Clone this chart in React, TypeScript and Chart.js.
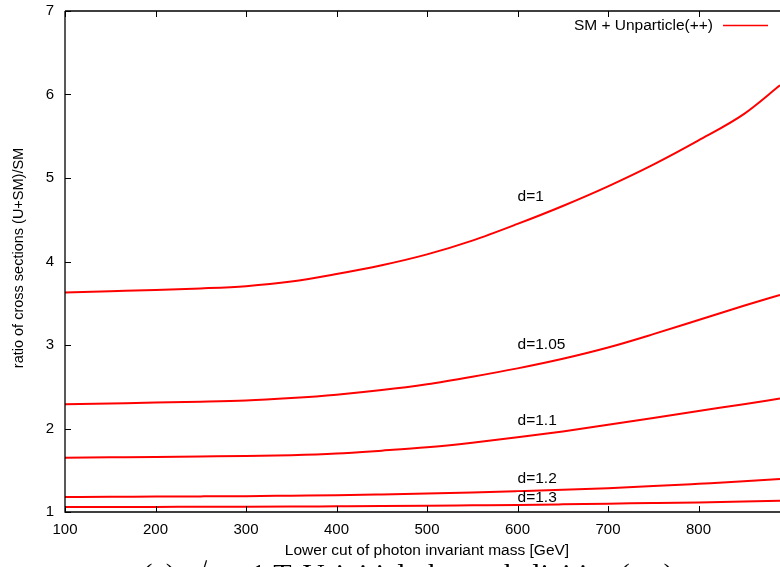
import React, { useEffect, useRef } from "react";
import { Chart, registerables } from "chart.js";

Chart.register(...registerables);

// Lower cut of photon invariant mass [GeV]
const massCut = [100, 150, 200, 250, 300, 350, 400, 450, 500, 550, 600, 650, 700, 750, 800, 850, 890];

// ratio of cross sections (U+SM)/SM for each scaling dimension d
const ratioD100 = [3.63, 3.645, 3.66, 3.678, 3.705, 3.76, 3.85, 3.955, 4.085, 4.25, 4.45, 4.665, 4.90, 5.16, 5.45, 5.765, 6.11];
const ratioD105 = [2.29, 2.30, 2.31, 2.32, 2.335, 2.365, 2.405, 2.46, 2.53, 2.62, 2.72, 2.835, 2.97, 3.13, 3.30, 3.47, 3.60];
const ratioD110 = [1.65, 1.655, 1.66, 1.665, 1.67, 1.68, 1.70, 1.735, 1.775, 1.83, 1.895, 1.965, 2.045, 2.125, 2.21, 2.29, 2.36];
const ratioD120 = [1.18, 1.182, 1.185, 1.187, 1.19, 1.195, 1.20, 1.21, 1.222, 1.235, 1.25, 1.266, 1.285, 1.31, 1.338, 1.367, 1.395];
const ratioD130 = [1.06, 1.06, 1.061, 1.062, 1.063, 1.065, 1.068, 1.071, 1.075, 1.08, 1.085, 1.092, 1.10, 1.107, 1.115, 1.125, 1.135];

const seriesValues = [ratioD100, ratioD105, ratioD110, ratioD120, ratioD130];
const curveNames = ["d=1", "d=1.05", "d=1.1", "d=1.2", "d=1.3"];
// where each curve's name is written (data units)
const curveLabelX = [600, 600, 600, 600, 600];
const curveLabelY = [4.78, 3.0, 2.09, 1.395, 1.17];

const xTicks = [100, 200, 300, 400, 500, 600, 700, 800];
const yTicks = [1, 2, 3, 4, 5, 6, 7];

const legendLabel = "SM + Unparticle(++)";
const xTitle = "Lower cut of photon invariant mass [GeV]";
const yTitle = "ratio of cross sections (U+SM)/SM";
const caption = "(a)  \u221As = 1 TeV, initial photon helicities (++)";

const SANS = "'Liberation Sans', Arial, Helvetica, sans-serif";
const RED = "#ff0000";

const overlay = {
  id: "overlay",
  afterDraw(chart: any) {
    const { ctx, chartArea: a, scales } = chart;
    const xs = scales.x;
    const ys = scales.y;
    ctx.save();

    // frame (left, bottom, top)
    ctx.strokeStyle = "#000";
    ctx.lineWidth = 1.3;
    ctx.beginPath();
    ctx.moveTo(a.left, a.top);
    ctx.lineTo(a.left, a.bottom);
    ctx.lineTo(a.right + 2, a.bottom);
    ctx.moveTo(a.left, a.top);
    ctx.lineTo(a.right + 2, a.top);
    ctx.stroke();

    // inward ticks
    ctx.lineWidth = 1;
    const tl = 6;
    ctx.beginPath();
    for (const v of xTicks) {
      const px = Math.round(xs.getPixelForValue(v)) + 0.5;
      ctx.moveTo(px, a.bottom);
      ctx.lineTo(px, a.bottom - tl);
      ctx.moveTo(px, a.top);
      ctx.lineTo(px, a.top + tl);
    }
    for (const v of yTicks) {
      const py = Math.round(ys.getPixelForValue(v)) + 0.5;
      ctx.moveTo(a.left, py);
      ctx.lineTo(a.left + tl, py);
    }
    ctx.stroke();

    // legend
    ctx.fillStyle = "#000";
    ctx.font = `15.5px ${SANS}`;
    ctx.textAlign = "right";
    ctx.textBaseline = "middle";
    ctx.fillText(chart.data.datasets[0].label, 713, 26);
    ctx.strokeStyle = RED;
    ctx.lineWidth = 1.5;
    ctx.beginPath();
    ctx.moveTo(723, 25.5);
    ctx.lineTo(768, 25.5);
    ctx.stroke();

    // curve labels
    ctx.textAlign = "left";
    ctx.fillStyle = "#000";
    curveNames.forEach((n, i) => {
      ctx.fillText(n, xs.getPixelForValue(curveLabelX[i]), ys.getPixelForValue(curveLabelY[i]));
    });

    // x title
    ctx.textAlign = "center";
    ctx.font = `15.5px ${SANS}`;
    ctx.fillText(xTitle, 427, 551);

    // y title
    ctx.save();
    ctx.translate(19, 258);
    ctx.rotate(-Math.PI / 2);
    ctx.font = `14.5px ${SANS}`;
    ctx.textAlign = "center";
    ctx.textBaseline = "middle";
    ctx.fillText(yTitle, 0, 0);
    ctx.restore();

    // caption (mostly below the page)
    ctx.font = `30px 'Liberation Serif', 'DejaVu Serif', serif`;
    ctx.textAlign = "center";
    ctx.textBaseline = "alphabetic";
    ctx.fillText(caption, 408, 584);

    ctx.restore();
  },
};

export default function App() {
  const ref = useRef<HTMLCanvasElement | null>(null);

  useEffect(() => {
    if (!ref.current) return;
    const datasets = seriesValues.map((vals, i) => ({
      label: i === 0 ? legendLabel : curveNames[i],
      data: massCut.map((m, j) => ({ x: m, y: vals[j] })),
      borderColor: RED,
      backgroundColor: RED,
      borderWidth: 2,
      pointRadius: 0,
      fill: false,
      cubicInterpolationMode: "monotone" as const,
    }));

    const chart = new Chart(ref.current, {
      type: "line",
      data: { datasets },
      options: {
        animation: false,
        responsive: false,
        devicePixelRatio: 1,
        layout: { padding: { top: 11, right: 0, left: 0, bottom: 0 } },
        plugins: { legend: { display: false }, tooltip: { enabled: false } },
        scales: {
          x: {
            type: "linear",
            min: 100,
            max: 890,
            grid: { display: false, drawTicks: false },
            border: { display: false },
            ticks: {
              color: "#000",
              font: { family: SANS, size: 15 },
              padding: 9,
              maxRotation: 0,
              autoSkip: false,
            },
            afterBuildTicks: (s: any) => {
              s.ticks = xTicks.map((v) => ({ value: v }));
            },
            afterFit: (s: any) => {
              s.height = 55;
              s.paddingLeft = 0;
              s.paddingRight = 0;
            },
          },
          y: {
            type: "linear",
            min: 1,
            max: 7,
            grid: { display: false, drawTicks: false },
            border: { display: false },
            ticks: {
              color: "#000",
              font: { family: SANS, size: 15 },
              padding: 11,
              autoSkip: false,
            },
            afterBuildTicks: (s: any) => {
              s.ticks = yTicks.map((v) => ({ value: v }));
            },
            afterFit: (s: any) => {
              s.width = 65;
              s.paddingTop = 0;
              s.paddingBottom = 0;
            },
          },
        },
      },
      plugins: [overlay],
    });
    return () => chart.destroy();
  }, []);

  return (
    <div
      style={{
        position: "fixed",
        left: 0,
        top: 0,
        width: 780,
        height: 567,
        overflow: "hidden",
        background: "#fff",
      }}
    >
      <canvas ref={ref} width={780} height={567} style={{ display: "block", width: 780, height: 567 }} />
    </div>
  );
}
